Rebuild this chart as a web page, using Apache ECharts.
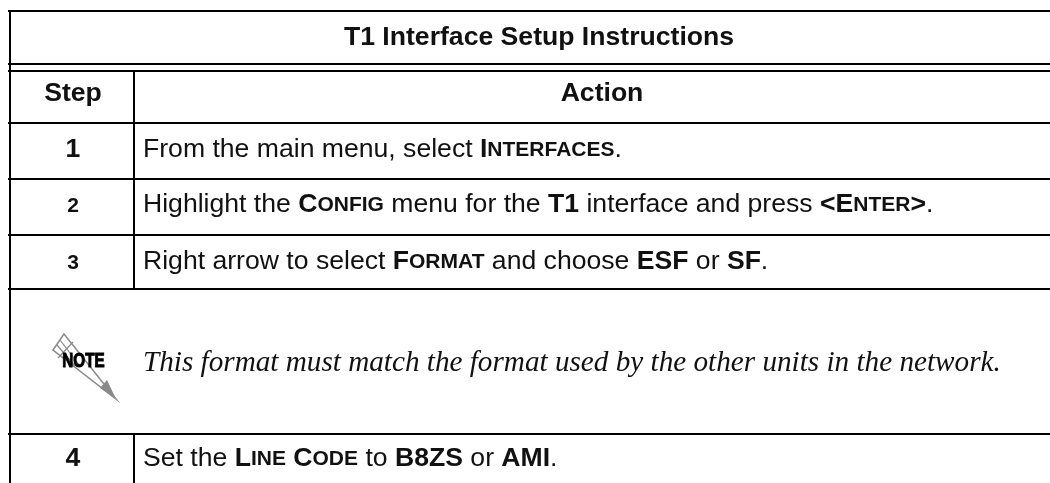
<!DOCTYPE html>
<html>
<head>
<meta charset="utf-8">
<style>html,body{margin:0;padding:0;background:#fff}#chart{width:1050px;height:483px}</style>
<script src="https://cdn.jsdelivr.net/npm/echarts@6/dist/echarts.min.js"></script>
</head>
<body>
<div id="chart"></div>
<script>
// table texts. b: = bold, s: = bold small caps tail
const tableTitle = 'T1 Interface Setup Instructions';
const headers = ['Step', 'Action'];
const steps = ['1', '2', '3', '', '4'];
const actions = [
  ['From the main menu, select ', 'b:I', 's:NTERFACES', '.'],
  ['Highlight the ', 'b:C', 's:ONFIG', ' menu for the ', 'b:T1', ' interface and press ', 'b:<E', 's:NTER', 'b:>', '.'],
  ['Right arrow to select ', 'b:F', 's:ORMAT', ' and choose ', 'b:ESF', ' or ', 'b:SF', '.'],
  [],
  ['Set the ', 'b:L', 's:INE', 'b: C', 's:ODE', ' to ', 'b:B8ZS', ' or ', 'b:AMI', '.']
];
const noteText = 'This format must match the format used by the other units in the network.';
const noteLabel = 'NOTE';

const hLines = [11, 64, 71, 123, 179, 235, 289, 434];
const rowCenters = [150, 205, 262, 363, 459];
const stepCenters = [150, 206, 263, 363, 459];
const colX = 134;
const leftX = 10;

const chart = echarts.init(document.getElementById('chart'));
const sans = '"Liberation Sans", Arial, sans-serif';
const ink = '#000';
const elements = [];

function line(x1, y1, x2, y2) {
  elements.push({ type: 'line', shape: { x1, y1, x2, y2 }, style: { stroke: ink, lineWidth: 2 } });
}
function text(x, y, str, font, align, extra) {
  elements.push({
    type: 'text', x, y,
    style: Object.assign({ text: str, font, fill: '#111', align: align || 'left', verticalAlign: 'middle' }, extra)
  });
}

hLines.forEach(y => line(8, y, 1050, y));
line(leftX, 10, leftX, 483);
line(colX, 71, colX, 289);
line(colX, 434, colX, 483);

text(539, 38, tableTitle, 'bold 26.6px ' + sans, 'center');
text(73, 94, headers[0], 'bold 26.6px ' + sans, 'center');
text(602, 94, headers[1], 'bold 26.6px ' + sans, 'center');

steps.forEach((s, i) => {
  if (s) text(73, stepCenters[i], s, 'bold ' + (i === 0 || i === 4 ? 26.6 : 21) + 'px ' + sans, 'center');
});

actions.forEach((parts, i) => {
  if (!parts.length) return;
  const str = parts.map(p => {
    if (p.startsWith('b:')) return '{b|' + p.slice(2) + '}';
    if (p.startsWith('s:')) return '{s|' + p.slice(2) + '}';
    return '{n|' + p + '}';
  }).join('');
  text(143, rowCenters[i], str, '26.6px ' + sans, 'left', {
    rich: {
      n: { font: '26.6px ' + sans, fill: '#111' },
      b: { font: 'bold 26.6px ' + sans, fill: '#111' },
      s: { font: 'bold 21px ' + sans, fill: '#111' }
    }
  });
});

// note pencil icon
const grey = '#8a8a8a';
elements.push({
  type: 'polygon',
  shape: { points: [[53, 350], [64, 334], [116, 399]] },
  style: { fill: '#fff', stroke: grey, lineWidth: 1.5 }
});
[[[57, 345], [75, 366]], [[60, 340], [80, 366]], [[58, 358], [73, 342]]].forEach(p => {
  elements.push({ type: 'line', shape: { x1: p[0][0], y1: p[0][1], x2: p[1][0], y2: p[1][1] }, style: { stroke: grey, lineWidth: 1.2 } });
});
elements.push({
  type: 'polygon',
  shape: { points: [[100, 388], [107, 380], [116, 399]] },
  style: { fill: grey }
});
elements.push({
  type: 'text', x: 83.5, y: 362, scaleX: 0.78,
  style: { text: noteLabel, font: 'bold 19.5px ' + sans, fill: '#000', stroke: '#000', lineWidth: 1, align: 'center', verticalAlign: 'middle' }
});
text(143, 363, noteText, 'italic 29.2px "Liberation Serif", serif', 'left', { fill: '#111' });

chart.setOption({
  animation: false,
  backgroundColor: '#fff',
  graphic: { elements }
});
</script>
</body>
</html>
